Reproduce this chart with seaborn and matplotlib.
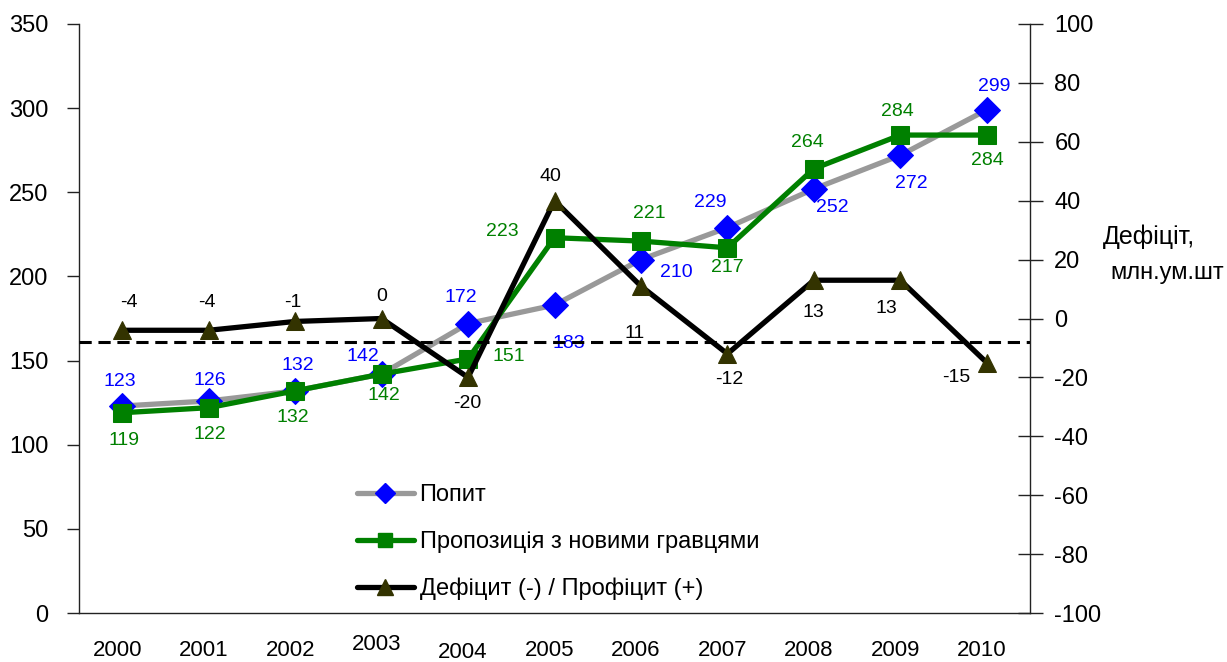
import numpy as np
import pandas as pd
import matplotlib
matplotlib.use("Agg")
import matplotlib.pyplot as plt
import seaborn as sns
from matplotlib.lines import Line2D
from matplotlib.ticker import FixedLocator, MultipleLocator

# ---- data -------------------------------------------------------------
years = [2000, 2001, 2002, 2003, 2004, 2005, 2006, 2007, 2008, 2009, 2010]
demand = [123, 126, 132, 142, 172, 183, 210, 229, 252, 272, 299]
supply = [119, 122, 132, 142, 151, 223, 221, 217, 264, 284, 284]
balance = [-4, -4, -1, 0, -20, 40, 11, -12, 13, 13, -15]
balance_ref = -8

name_demand = "Попит"
name_supply = "Пропозиція з новими гравцями"
name_balance = "Дефіцит (-) / Профіцит (+)"
right_title = ["Дефіціт,", "млн.ум.шт"]

# ---- styling ----------------------------------------------------------
sns.set_theme(style="white")
plt.rcParams["font.family"] = ["Liberation Sans", "DejaVu Sans"]
plt.rcParams["axes.unicode_minus"] = False
plt.rcParams["text.color"] = "black"
plt.rcParams["axes.labelcolor"] = "black"

C_DEMAND_LINE = "#999999"
C_DEMAND_MARK = "#0000FF"
C_SUPPLY = "#008000"
C_BAL_LINE = "#000000"
C_BAL_MARK = "#333300"

W, H = 1227, 662
fig = plt.figure(figsize=(W / 100, H / 100), dpi=100)
ax = fig.add_axes([79 / W, 1 - 613 / H, (1030 - 79) / W, (613 - 24) / H])
ax2 = ax.twinx()

df = pd.DataFrame({"year": years, "demand": demand, "supply": supply, "balance": balance})

sns.lineplot(data=df, x="year", y="demand", ax=ax, color=C_DEMAND_LINE, linewidth=3.8,
             marker="D", markersize=13.5, markerfacecolor=C_DEMAND_MARK,
             markeredgecolor=C_DEMAND_MARK, zorder=3)
sns.lineplot(data=df, x="year", y="supply", ax=ax, color=C_SUPPLY, linewidth=3.8,
             marker="s", markersize=13.5, markerfacecolor=C_SUPPLY,
             markeredgecolor=C_SUPPLY, zorder=4)
ax2.axhline(balance_ref, color="black", linewidth=2.2, linestyle=(0, (4, 2.2)), zorder=2)
sns.lineplot(data=df, x="year", y="balance", ax=ax2, color=C_BAL_LINE, linewidth=3.8,
             marker="^", markersize=13, markerfacecolor=C_BAL_MARK,
             markeredgecolor=C_BAL_MARK, zorder=3)

# ---- axes ----------------------------------------------------------------
ax.set_xlim(years[0] - 0.5, years[-1] + 0.5)
ax.set_ylim(0, 350)
ax2.set_ylim(-100, 100)
ax.yaxis.set_major_locator(MultipleLocator(50))
ax2.yaxis.set_major_locator(MultipleLocator(20))
for a in (ax, ax2):
    a.set_xlabel("")
    a.set_ylabel("")
    a.spines["top"].set_visible(False)
    for s in a.spines.values():
        s.set_color("#222222")
        s.set_linewidth(1.0)
ax.spines["right"].set_visible(False)
ax2.spines["left"].set_visible(False)
ax2.spines["bottom"].set_visible(False)

ax.tick_params(axis="y", direction="out", length=9, width=1, color="#222222",
               pad=13, labelsize=17, labelcolor="black")
ax2.tick_params(axis="y", direction="inout", length=18, width=1, color="#222222",
                pad=8.5, labelsize=17, labelcolor="black")

# category boundaries carry the tick marks; year labels are drawn as text
bounds = [y - 0.5 for y in years] + [years[-1] + 0.5]
ax.xaxis.set_major_locator(FixedLocator(bounds))
ax.tick_params(axis="x", direction="out", length=8, width=1, color="#222222",
               labelbottom=False)
year_drop = [37, 37, 37, 32, 39, 37, 37, 37, 37, 37, 37]
for yr, dy in zip(years, year_drop):
    ax.annotate(str(yr), xy=(yr, 0), xycoords=("data", "axes fraction"),
                xytext=(-5, -dy), textcoords="offset pixels",
                ha="center", va="center", fontsize=16, color="black")

# ---- value labels ---------------------------------------------------------
off_demand = [(-2, -25), (1, -20), (3, -25), (-19, -18), (-7, -26), (14, 38),
              (35, 13), (-17, -25), (18, 19), (11, 28), (7, -23)]
off_supply = [(2, 28), (1, 27), (-2, 27), (2, 21), (41, -2), (-52, -6),
              (8, -28), (0, 20), (-6, -26), (-3, -24), (1, 25)]
off_balance = [(7, -28), (-2, -28), (-2, -19), (0, -22), (-1, 26), (-4, -24),
               (-6, 47), (2, 26), (0, 32), (-14, 28), (-31, 15)]

for yr, v, (dx, dy) in zip(years, demand, off_demand):
    ax.annotate(str(v), xy=(yr, v), xytext=(dx, -dy), textcoords="offset pixels",
                ha="center", va="center", fontsize=14, color=C_DEMAND_MARK, zorder=6)
for yr, v, (dx, dy) in zip(years, supply, off_supply):
    ax.annotate(str(v), xy=(yr, v), xytext=(dx, -dy), textcoords="offset pixels",
                ha="center", va="center", fontsize=14, color=C_SUPPLY, zorder=6)
for yr, v, (dx, dy) in zip(years, balance, off_balance):
    ax2.annotate(str(v), xy=(yr, v), xytext=(dx, -dy), textcoords="offset pixels",
                 ha="center", va="center", fontsize=14, color="black", zorder=6)

# ---- legend -----------------------------------------------------------------
handles = [
    Line2D([], [], color=C_DEMAND_LINE, linewidth=3.8, marker="D", markersize=10,
           markerfacecolor=C_DEMAND_MARK, markeredgecolor=C_DEMAND_MARK),
    Line2D([], [], color=C_SUPPLY, linewidth=3.8, marker="s", markersize=10,
           markerfacecolor=C_SUPPLY, markeredgecolor=C_SUPPLY),
    Line2D([], [], color=C_BAL_LINE, linewidth=3.8, marker="^", markersize=12,
           markerfacecolor=C_BAL_MARK, markeredgecolor=C_BAL_MARK),
]
leg = ax2.legend(handles, [name_demand, name_supply, name_balance],
                 loc="upper left", bbox_to_anchor=(357 / W, 1 - 484 / H),
                 bbox_transform=fig.transFigure, frameon=False, fontsize=17,
                 handlelength=2.4, handletextpad=0.25, labelspacing=1.05,
                 borderpad=0, borderaxespad=0)
for t in leg.get_texts():
    t.set_color("black")

# ---- right axis title -------------------------------------------------------
fig.text(1103 / W, 1 - 237 / H, right_title[0], ha="left", va="center", fontsize=18,
         color="black")
fig.text(1110 / W, 1 - 273 / H, right_title[1], ha="left", va="center", fontsize=17,
         color="black")

fig.savefig("out.png", dpi=100, facecolor="white")
